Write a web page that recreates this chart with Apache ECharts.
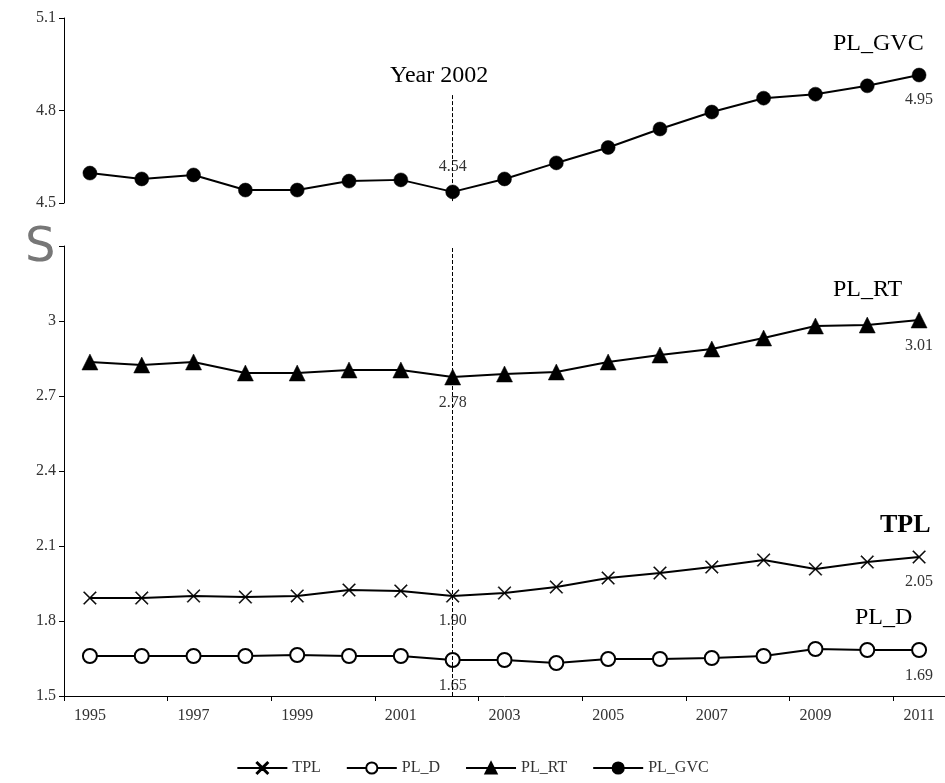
<!DOCTYPE html>
<html><head><meta charset="utf-8">
<script src="https://cdn.jsdelivr.net/npm/echarts@6/dist/echarts.min.js"></script>
<style>body{margin:0}#c{width:945px;height:783px}</style></head>
<body><div id="c"></div>
<script>
const years = ["1995","1996","1997","1998","1999","2000","2001","2002","2003","2004","2005","2006","2007","2008","2009","2010","2011"];
const tpl = [1.892,1.892,1.9,1.896,1.9,1.924,1.92,1.9,1.912,1.936,1.972,1.992,2.016,2.044,2.008,2.036,2.056];
const plD = [1.66,1.66,1.66,1.66,1.664,1.66,1.66,1.644,1.644,1.632,1.648,1.648,1.652,1.66,1.688,1.684,1.684];
const plRT = [2.836,2.824,2.836,2.792,2.792,2.804,2.804,2.776,2.788,2.796,2.836,2.864,2.888,2.932,2.98,2.984,3.004];
const plGVC = [4.597,4.578,4.591,4.542,4.542,4.571,4.575,4.536,4.578,4.63,4.68,4.74,4.795,4.84,4.853,4.88,4.915];
const labels = { tpl: ["1.90", "2.05"], plD: ["1.65", "1.69"], plRT: ["2.78", "3.01"], plGVC: ["4.54", "4.95"] };

const font = "Liberation Serif";
const crossPath = "path://M0,0.6L0.6,0L5,4.4L9.4,0L10,0.6L5.6,5L10,9.4L9.4,10L5,5.6L0.6,10L0,9.4L4.4,5Z";

function mk(name, data, lab, symbol, size, gi, labPos, fill) {
  return {
    name, type: "line", data: data.map((v, i) => {
      let d = { value: v };
      if (i === 7) d.label = { show: true, position: labPos[0], formatter: lab[0] };
      if (i === 16) d.label = { show: true, position: labPos[1], formatter: lab[1] };
      return d;
    }),
    xAxisIndex: gi, yAxisIndex: gi, symbol, symbolSize: size, showAllSymbol: true,
    lineStyle: { color: "#000", width: 2 },
    itemStyle: { color: fill, borderColor: "#000", borderWidth: fill === "#fff" ? 2 : 0.5 },
    label: { color: "#333", fontFamily: font, fontSize: 16, distance: 10 },
    z: 3
  };
}

const chart = echarts.init(document.getElementById("c"));
const yax = (min, max, hideTop) => ({
  type: "value", min, max, interval: 0.3,
  axisLine: { show: true, lineStyle: { color: "#000" } },
  axisTick: { show: true, lineStyle: { color: "#000" } },
  splitLine: { show: false },
  axisLabel: { color: "#333", fontFamily: font, fontSize: 16, formatter: v => (hideTop && Math.abs(v - max) < 1e-6) ? "" : String(+v.toFixed(1)) }
});
chart.setOption({
  animation: false,
  grid: [
    { left: 64, right: -28, top: 18, height: 185 },
    { left: 64, right: -28, top: 246, bottom: 87 }
  ],
  xAxis: [
    { gridIndex: 0, type: "category", data: years, show: false, boundaryGap: true },
    { gridIndex: 1, type: "category", data: years, boundaryGap: true,
      axisLine: { lineStyle: { color: "#000" } },
      axisTick: { show: true, lineStyle: { color: "#000" } },
      axisLabel: { interval: 1, color: "#333", fontFamily: font, fontSize: 16, margin: 12 } }
  ],
  yAxis: [
    Object.assign(yax(4.5, 5.1, false), { gridIndex: 0 }),
    Object.assign(yax(1.5, 3.3, true), { gridIndex: 1 })
  ],
  legend: {
    bottom: 2, left: "center", itemWidth: 50, itemHeight: 14, itemGap: 25,
    textStyle: { fontFamily: font, fontSize: 16, color: "#333" },
    data: ["TPL", "PL_D", "PL_RT", "PL_GVC"]
  },
  graphic: [
    { type: "text", left: 25, top: 225, style: { text: "S", font: "48px 'DejaVu Sans'", fill: "#777" } },
    { type: "text", left: 833, top: 32, style: { text: "PL_GVC", font: "24px 'Liberation Serif'", fill: "#000" } },
    { type: "text", left: 833, top: 278, style: { text: "PL_RT", font: "24px 'Liberation Serif'", fill: "#000" } },
    { type: "text", left: 880, top: 512, style: { text: "TPL", font: "bold 26px 'Liberation Serif'", fill: "#000" } },
    { type: "text", left: 855, top: 606, style: { text: "PL_D", font: "24px 'Liberation Serif'", fill: "#000" } },
    { type: "text", left: 390, top: 64, style: { text: "Year 2002", font: "24px 'Liberation Serif'", fill: "#000" } }
  ],
  series: [
    mk("TPL", tpl, labels.tpl, crossPath, 13, 1, ["bottom", "bottom"], "#000"),
    mk("PL_D", plD, labels.plD, "circle", 14, 1, ["bottom", "bottom"], "#fff"),
    Object.assign(mk("PL_RT", plRT, labels.plRT, "triangle", 16, 1, ["bottom", "bottom"], "#000"), {
      markLine: { silent: true, symbol: "none", label: { show: false },
        lineStyle: { color: "#000", type: "dashed", width: 1 }, data: [{ xAxis: "2002" }] }
    }),
    Object.assign(mk("PL_GVC", plGVC, labels.plGVC, "circle", 14, 0, ["top", "bottom"], "#000"), {
      markLine: { silent: true, symbol: "none", label: { show: false },
        lineStyle: { color: "#000", type: "dashed", width: 1 }, data: [[{ coord: ["2002", 4.85] }, { coord: ["2002", 4.5] }]] }
    })
  ]
});
</script></body></html>
